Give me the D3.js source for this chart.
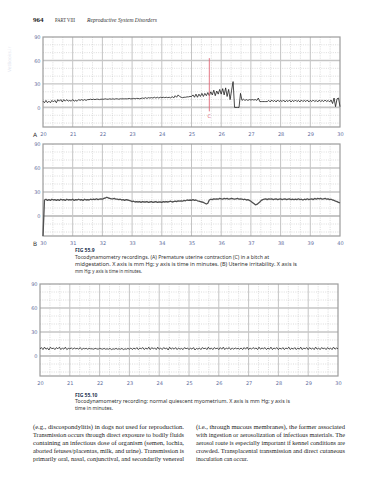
<!DOCTYPE html>
<html><head><meta charset="utf-8">
<script src="https://cdn.jsdelivr.net/npm/d3@7"></script>
<style>html,body{margin:0;padding:0;background:#fff;}svg{display:block;}</style>
</head><body>
<svg id="page" width="375" height="480"></svg>
<script>
// ---------------- DATA ----------------
const yDomain = [-25, 90];
const yTickLabels = [0, 30, 60, 90];
const xTicksA = [20, 21, 22, 23, 24, 25, 26, 27, 28, 29, 30];
const xTicksB = [30, 31, 32, 33, 34, 35, 36, 37, 38, 39, 40];
const xTicksC = [20, 21, 22, 23, 24, 25, 26, 27, 28, 29, 30];
const sampleStep = 0.05; // minutes between readings
const startA = 20, startB = 30, startC = 20;

// A: premature uterine contraction (mm Hg), one reading every 0.05 min from 20
const traceA = [
  8, 6, 9, 6, 8, 6, 9, 7, 9, 6,
  10, 8, 10, 7, 10, 8, 10, 8, 9, 8,
  10, 8, 9, 8, 10, 9, 10, 9, 10, 9,
  10, 10, 10.5, 10, 10.5, 10, 10.5, 10.5, 10, 10.5,
  10.5, 10.5, 11, 10.5, 10.5, 11, 10.5, 11, 10.5, 11,
  11, 10.5, 11, 11, 11, 11, 11, 11, 11.5, 11,
  11, 11.5, 11, 11.5, 11.5, 11, 11.5, 12, 11.5, 12.5,
  11.5, 12.5, 12, 12.5, 12, 13, 12, 13, 12, 13,
  12.5, 13, 12.5, 13, 12.5, 13, 12, 14, 12, 15,
  13, 16, 14, 13, 12.5, 13, 13, 13.5, 13.5, 14,
  14, 16, 13, 17, 13, 17, 14, 18, 14, 18,
  15, 19, 15, 20, 16, 22, 15, 21, 17, 23,
  17, 24, 16, 25, 14, 23, 10, 22, 33, 0,
  0, 0, 0, 18, 9, 10.5, 9, 10, 9, 10,
  9.5, 10, 9.5, 10, 9, 12, 7.5, 7.5, 7.5, 7.5,
  7.5, 7.5, 9, 7, 9.5, 7.5, 9, 7, 9.5, 7.5,
  9, 7.5, 9.5, 7, 9, 7.5, 9.5, 7, 9, 7.5,
  9.5, 7.5, 9, 7, 9.5, 7.5, 9, 7.5, 9.5, 7,
  9, 7.5, 9.5, 7.5, 9, 7, 9.5, 7.5, 9, 7.5,
  9.5, 7.5, 9, 7, 9.5, 5, 12, 1, 11, 12,
  1
];
const contraction = { t: 25.6, high: 63, low: -5, labelAt: -11, label: "C" };

// B: uterine irritability, every 0.05 min from 30
const traceB = [
  -25, 20, 21, 19.5, 20.5, 19.5, 21, 20, 20.5, 19.5,
  20.5, 19.5, 21, 20, 20.5, 19.5, 21, 20, 20.5, 20,
  21, 19.5, 20.5, 20, 21, 20, 20.5, 19.5, 21, 20,
  20.5, 20, 21, 20.5, 21, 20.5, 21.5, 20.5, 21, 21.5,
  21, 22, 22.5, 23.5, 22.5, 22, 21.5, 21.5, 22, 21,
  21, 20.5, 21, 20, 20.5, 19.5, 20.5, 20, 19.5, 19,
  18, 18.5, 17.5, 18, 17.5, 18, 17, 18, 17.5, 17.5,
  18, 17, 17.5, 18, 17, 17.5, 18, 17, 17.5, 17.5,
  17, 18, 17.5, 18, 17.5, 18, 18.5, 17.5, 18, 18.5,
  18, 19, 18.5, 19, 18.5, 19.5, 19, 20, 19.5, 20,
  19.5, 20.5, 19.5, 20, 19, 18.5, 18, 17.5, 17, 16,
  15, 16, 20, 21, 20.5, 21.5, 21, 21.5, 21, 22,
  21.5, 21, 22, 21.5, 22, 21, 21.5, 22, 21.5, 21,
  21.5, 22, 21, 21.5, 21, 20.5, 21, 20, 20.5, 19.5,
  18.5, 17, 15.5, 14, 14.5, 16, 17.5, 19.5, 20.5, 21,
  21.5, 20.5, 21.5, 21, 21.5, 20.5, 21, 21.5, 20.5, 21,
  21.5, 20.5, 21, 21.5, 20.5, 21, 21.5, 20.5, 21, 20.5,
  21, 20.5, 21.5, 20.5, 21, 20, 21, 20.5, 21.5, 20.5,
  21, 21.5, 20.5, 22, 21, 22, 21.5, 22, 21, 21.5,
  22, 21, 21.5, 20.5, 21, 20, 19.5, 18.5, 18, 17,
  16.5
];

// C: normal quiescent myometrium, every 0.05 min from 20
const traceC = [
  9, 10.5, 8, 11, 8.5, 10, 7.5, 11, 9, 10,
  8, 10.5, 9, 11, 8, 10, 8.5, 11, 8, 9.5,
  9, 10, 8.5, 10, 9, 9.5, 8.5, 10.5, 8, 9.5,
  9, 9.5, 8.5, 9.5, 9, 9, 8.5, 9.5, 9, 8.5,
  9.5, 9, 8.5, 9.5, 8.5, 9, 8.5, 9.5, 8, 9,
  8.5, 9.5, 8.5, 9, 8.5, 9.5, 8, 9, 8.5, 9.5,
  8.5, 10, 8, 10, 8.5, 10.5, 8, 10, 9, 10.5,
  8, 10, 8.5, 11, 8, 10.5, 9, 10, 8, 11,
  8.5, 10, 8, 10.5, 9, 10, 7.5, 11, 8.5, 10,
  8.5, 10.5, 8, 10, 8.5, 9.5, 8, 10.5, 9, 10,
  8, 10, 8.5, 10.5, 7.5, 9.5, 8.5, 10, 8, 10.5,
  9, 10, 8, 11, 8.5, 10, 8, 10.5, 9, 10,
  8, 10.5, 8.5, 11, 8, 10, 9, 10.5, 8, 10,
  8.5, 10, 9, 9.5, 8.5, 10, 8, 10.5, 8.5, 11,
  8, 10, 8.5, 10.5, 9, 10, 8, 11, 8.5, 10,
  9, 10.5, 8, 10, 8.5, 11, 8, 10, 9, 10.5,
  8, 10, 8.5, 10.5, 8, 10, 9, 11, 8, 10,
  8.5, 10.5, 8, 10, 8.5, 11, 8, 10, 9, 10.5,
  8, 10.5, 8.5, 10, 8, 11, 8.5, 10, 8, 10.5,
  9, 10, 8, 10.5, 8.5, 10, 8, 11, 8.5, 10,
  9
];

// texts
const header = { num: "964", part: "PART VIII", title: "Reproductive System Disorders" };
const caption1 = {
  fig: "FIG 55.9",
  lines: [
    "Tocodynamometry recordings. (A) Premature uterine contraction (C) in a bitch at",
    "midgestation. X axis is mm Hg; y axis is time in minutes. (B) Uterine irritability. X axis is",
    "mm Hg; y axis is time in minutes."
  ]
};
const caption2 = {
  fig: "FIG 55.10",
  lines: [
    "Tocodynamometry recording: normal quiescent myometrium. X axis is mm Hg; y axis is",
    "time in minutes."
  ]
};
const bodyLeft = [
  "(e.g., discospondylitis) in dogs not used for reproduction.",
  "Transmission occurs through direct exposure to bodily fluids",
  "containing an infectious dose of organism (semen, lochia,",
  "aborted fetuses/placentas, milk, and urine). Transmission is",
  "primarily oral, nasal, conjunctival, and secondarily venereal"
];
const bodyRight = [
  "(i.e., through mucous membranes), the former associated",
  "with ingestion or aerosolization of infectious materials. The",
  "aerosol route is especially important if kennel conditions are",
  "crowded. Transplacental transmission and direct cutaneous",
  "inoculation can occur."
];

// ---------------- DRAWING ----------------
const svg = d3.select("#page");
const sans = "'DejaVu Sans', sans-serif";
const capFont = "'Noto Sans', 'DejaVu Sans', sans-serif";
const serif = "'Liberation Serif', 'DejaVu Serif', serif";

function drawChart(opt) {
  const g = svg.append("g");
  const x = d3.scaleLinear().domain([opt.ticks[0], opt.ticks[opt.ticks.length - 1]]).range([opt.left, opt.right]);
  const y = d3.scaleLinear().domain(yDomain).range([opt.bottom, opt.top]);

  // minor verticals (thirds of a minute)
  const minorX = [];
  opt.ticks.slice(0, -1).forEach(m => { minorX.push(m + 1 / 3, m + 2 / 3); });
  g.selectAll(".mvx").data(minorX).join("line")
    .attr("x1", d => x(d)).attr("x2", d => x(d)).attr("y1", opt.top).attr("y2", opt.bottom)
    .attr("stroke", "#c4c4c4").attr("stroke-width", 0.6).attr("stroke-dasharray", "1,1.3");
  // minor horizontals every 10
  const minorY = d3.range(-20, 90, 10).filter(v => v % 30 !== 0);
  g.selectAll(".mhy").data(minorY).join("line")
    .attr("x1", opt.left).attr("x2", opt.right).attr("y1", d => y(d)).attr("y2", d => y(d))
    .attr("stroke", "#c4c4c4").attr("stroke-width", 0.6).attr("stroke-dasharray", "1,1.3");
  // major verticals
  g.selectAll(".vx").data(opt.ticks.slice(1, -1)).join("line")
    .attr("x1", d => x(d)).attr("x2", d => x(d)).attr("y1", opt.top).attr("y2", opt.bottom)
    .attr("stroke", "#bdbdbd").attr("stroke-width", 0.9);
  // major horizontals
  g.selectAll(".hy").data(yTickLabels.filter(v => v < 90)).join("line")
    .attr("x1", opt.left).attr("x2", opt.right).attr("y1", d => y(d)).attr("y2", d => y(d))
    .attr("stroke", "#c6c6c6").attr("stroke-width", d => d === 0 ? 1.8 : 1.3);
  // frame
  g.append("rect").attr("x", opt.left).attr("y", opt.top)
    .attr("width", opt.right - opt.left).attr("height", opt.bottom - opt.top)
    .attr("fill", "none").attr("stroke", "#9c9c9c").attr("stroke-width", 1.2);

  // axes
  const ax = g.append("g").attr("transform", `translate(0,${opt.bottom})`)
    .call(d3.axisBottom(x).tickValues(opt.ticks).tickSize(0).tickPadding(5.5).tickFormat(d3.format("d")));
  const ay = g.append("g").attr("transform", `translate(${opt.left},0)`)
    .call(d3.axisLeft(y).tickValues(yTickLabels).tickSize(0).tickPadding(2.5).tickFormat(d3.format("d")));
  [ax, ay].forEach(a => {
    a.select(".domain").remove();
    a.selectAll("text").attr("font-family", sans).attr("font-size", 5).attr("fill", "#5f6ea0");
  });

  if (opt.letter) {
    g.append("text").attr("x", 33).attr("y", opt.bottom + 9.5).text(opt.letter)
      .attr("font-family", sans).attr("font-size", 6).attr("fill", "#333");
  }

  // trace
  const line = d3.line().x((d, i) => x(opt.start + i * sampleStep)).y(d => y(d));
  g.append("path").datum(opt.data).attr("d", line)
    .attr("fill", "none").attr("stroke", opt.color).attr("stroke-width", opt.width)
    .attr("stroke-linejoin", "round");
  return { g, x, y };
}

// header
svg.append("text").attr("x", 33).attr("y", 22).text(header.num)
  .attr("font-family", serif).attr("font-weight", "bold").attr("font-size", 7).attr("fill", "#222");
svg.append("text").attr("x", 55).attr("y", 22).text(header.part)
  .attr("font-family", serif).attr("font-size", 5.2).attr("fill", "#333")
  .attr("textLength", 20).attr("lengthAdjust", "spacingAndGlyphs");
svg.append("text").attr("x", 87).attr("y", 22).text(header.title)
  .attr("font-family", serif).attr("font-style", "italic").attr("font-size", 5.8).attr("fill", "#333")
  .attr("textLength", 70).attr("lengthAdjust", "spacingAndGlyphs");
// faint watermark
svg.append("text").attr("transform", "translate(11,72) rotate(-90)").text("VetBooks.ir")
  .attr("font-family", sans).attr("font-size", 4.5).attr("fill", "#e3e6ef");

const A = drawChart({ left: 43, right: 340, top: 37, bottom: 127, ticks: xTicksA, letter: "A",
  data: traceA, start: startA, color: "#1e1e1e", width: 0.8 });
// contraction marker
A.g.append("line").attr("x1", A.x(contraction.t)).attr("x2", A.x(contraction.t))
  .attr("y1", A.y(contraction.high)).attr("y2", A.y(contraction.low))
  .attr("stroke", "#e06a78").attr("stroke-width", 0.9);
A.g.append("text").attr("x", A.x(contraction.t)).attr("y", A.y(contraction.labelAt)).attr("dy", "0.35em")
  .attr("text-anchor", "middle").text(contraction.label)
  .attr("font-family", sans).attr("font-size", 5).attr("fill", "#e06a78");

drawChart({ left: 43, right: 340, top: 144, bottom: 236, ticks: xTicksB, letter: "B",
  data: traceB, start: startB, color: "#505050", width: 1.3 });

drawChart({ left: 40, right: 338, top: 284, bottom: 376, ticks: xTicksC, letter: null,
  data: traceC, start: startC, color: "#2a2a2a", width: 0.8 });

// captions
function caption(c, x0, yFig, yLines, widths) {
  svg.append("text").attr("x", x0).attr("y", yFig).text(c.fig)
    .attr("font-family", capFont).attr("font-weight", "bold").attr("font-size", 5).attr("fill", "#2b3a55");
  c.lines.forEach((t, i) => {
    const tx = svg.append("text").attr("x", x0).attr("y", yLines + i * 7.3).text(t)
      .attr("font-family", capFont).attr("font-size", 5).attr("fill", "#333");
    if (widths[i]) tx.attr("textLength", widths[i]).attr("lengthAdjust", "spacingAndGlyphs");
  });
}
caption(caption1, 75, 252, 258.5, [194, 222, 67]);
caption(caption2, 75, 397, 403, [215, 38]);

// body text
function column(lines, x0, width) {
  lines.forEach((t, i) => {
    const tx = svg.append("text").attr("x", x0).attr("y", 428.5 + i * 8).text(t)
      .attr("font-family", serif).attr("font-size", 5.9).attr("fill", "#222");
    if (i < lines.length - 1 || lines === bodyLeft) tx.attr("textLength", width).attr("lengthAdjust", "spacingAndGlyphs");
  });
}
column(bodyLeft, 33, 151);
column(bodyRight, 196, 149);
</script>
</body></html>
